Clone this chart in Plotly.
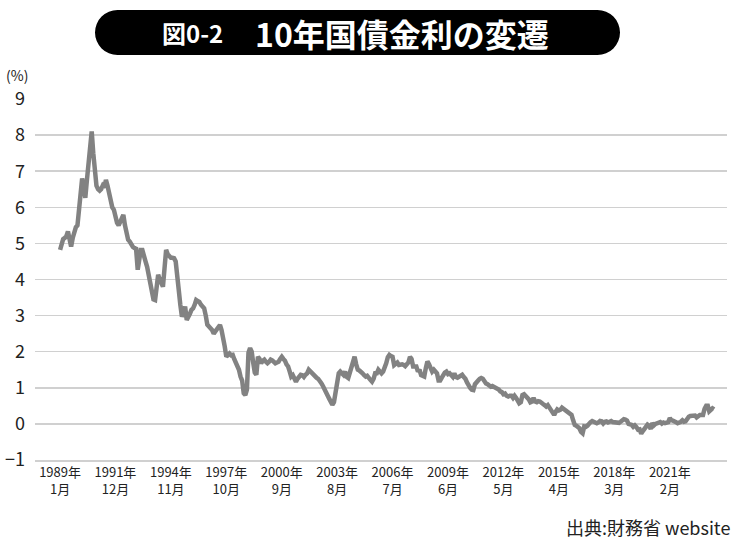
import pandas as pd
import plotly.graph_objects as go

# 10-year JGB yield (%), monthly, 1989-01 .. 2023-06
yield_pct = [
    # 1989
    4.82, 5.05, 5.12, 5.15, 5.20, 5.33, 5.10, 4.91, 5.15, 5.37, 5.45, 5.50,
    # 1990
    5.90, 6.40, 6.80, 6.55, 6.26, 6.76, 7.30, 7.80, 8.10, 7.50, 6.90, 6.60,
    # 1991
    6.50, 6.46, 6.50, 6.60, 6.55, 6.76, 6.60, 6.35, 6.12, 6.00, 5.93, 5.70,
    # 1992
    5.57, 5.50, 5.60, 5.74, 5.79, 5.50, 5.28, 5.10, 5.05, 4.96, 4.90, 4.87,
    # 1993
    4.85, 4.27, 4.60, 4.82, 4.82, 4.70, 4.50, 4.35, 4.15, 3.95, 3.70, 3.45,
    # 1994
    3.43, 3.90, 4.13, 4.00, 3.85, 3.80, 4.30, 4.82, 4.70, 4.63, 4.60, 4.60,
    # 1995
    4.59, 4.50, 4.20, 3.71, 3.30, 2.97, 3.10, 3.25, 2.88, 2.95, 3.05, 3.16,
    # 1996
    3.20, 3.30, 3.43, 3.40, 3.38, 3.30, 3.25, 3.20, 3.00, 2.75, 2.70, 2.65,
    # 1997
    2.60, 2.50, 2.55, 2.65, 2.70, 2.74, 2.60, 2.40, 2.14, 1.86, 1.90, 1.95,
    # 1998
    1.90, 1.91, 1.80, 1.70, 1.55, 1.50, 1.31, 1.20, 0.85, 0.80, 0.95, 1.97,
    # 1999
    2.10, 2.00, 1.70, 1.42, 1.36, 1.86, 1.80, 1.68, 1.75, 1.78, 1.72, 1.68,
    # 2000
    1.72, 1.78, 1.76, 1.70, 1.68, 1.70, 1.72, 1.80, 1.86, 1.80, 1.75, 1.65,
    # 2001
    1.59, 1.45, 1.31, 1.35, 1.25, 1.17, 1.25, 1.30, 1.36, 1.35, 1.30, 1.36,
    # 2002
    1.40, 1.50, 1.45, 1.40, 1.35, 1.31, 1.28, 1.25, 1.20, 1.13, 1.05, 0.94,
    # 2003
    0.85, 0.78, 0.70, 0.62, 0.53, 0.60, 0.85, 1.20, 1.40, 1.45, 1.38, 1.36,
    # 2004
    1.45, 1.30, 1.27, 1.45, 1.50, 1.75, 1.86, 1.65, 1.50, 1.48, 1.45, 1.40,
    # 2005
    1.35, 1.31, 1.33, 1.25, 1.22, 1.17, 1.25, 1.40, 1.40, 1.50, 1.45, 1.40,
    # 2006
    1.45, 1.55, 1.68, 1.85, 1.91, 1.88, 1.86, 1.63, 1.65, 1.70, 1.63, 1.65,
    # 2007
    1.65, 1.63, 1.60, 1.65, 1.70, 1.86, 1.80, 1.59, 1.60, 1.59, 1.45, 1.50,
    # 2008
    1.35, 1.31, 1.31, 1.55, 1.73, 1.65, 1.55, 1.45, 1.50, 1.45, 1.40, 1.20,
    # 2009
    1.20, 1.28, 1.36, 1.42, 1.45, 1.38, 1.40, 1.35, 1.30, 1.40, 1.30, 1.28,
    # 2010
    1.30, 1.32, 1.36, 1.30, 1.25, 1.15, 1.05, 1.00, 0.95, 0.94, 1.10, 1.17,
    # 2011
    1.20, 1.25, 1.27, 1.25, 1.15, 1.12, 1.10, 1.05, 1.03, 1.05, 1.03, 1.00,
    # 2012
    0.97, 0.95, 0.90, 0.88, 0.82, 0.84, 0.78, 0.76, 0.78, 0.78, 0.72, 0.78,
    # 2013
    0.72, 0.65, 0.57, 0.60, 0.80, 0.82, 0.78, 0.73, 0.68, 0.60, 0.62, 0.72,
    # 2014
    0.62, 0.60, 0.63, 0.62, 0.57, 0.55, 0.52, 0.48, 0.52, 0.45, 0.42, 0.34,
    # 2015
    0.25, 0.34, 0.40, 0.37, 0.39, 0.45, 0.42, 0.38, 0.35, 0.30, 0.30, 0.25,
    # 2016
    0.10, -0.03, -0.05, -0.10, -0.12, -0.22, -0.26, -0.07, -0.08, -0.05, 0.02, 0.05,
    # 2017
    0.08, 0.06, 0.07, 0.02, 0.04, 0.08, 0.07, 0.01, 0.06, 0.07, 0.04, 0.05,
    # 2018
    0.08, 0.05, 0.04, 0.05, 0.04, 0.03, 0.06, 0.11, 0.13, 0.12, 0.09, 0.00,
    # 2019
    0.00, -0.03, -0.08, -0.04, -0.09, -0.16, -0.15, -0.27, -0.20, -0.13, -0.08, -0.02,
    # 2020
    -0.05, -0.14, 0.02, -0.04, 0.00, 0.02, 0.01, 0.05, 0.01, 0.04, 0.02, 0.02,
    # 2021
    0.05, 0.16, 0.10, 0.09, 0.08, 0.05, 0.02, 0.03, 0.06, 0.10, 0.06, 0.07,
    # 2022
    0.17, 0.20, 0.22, 0.23, 0.24, 0.23, 0.18, 0.23, 0.25, 0.25, 0.25, 0.42,
    # 2023
    0.50, 0.50, 0.35, 0.39, 0.43, 0.40,
]
months = pd.date_range("1989-01-01", periods=len(yield_pct), freq="MS")

tick_dates = ["1989-01-01", "1991-12-01", "1994-11-01", "1997-10-01",
              "2000-09-01", "2003-08-01", "2006-07-01", "2009-06-01",
              "2012-05-01", "2015-04-01", "2018-03-01", "2021-02-01"]
tick_labels = ["1989年<br>1月", "1991年<br>12月", "1994年<br>11月", "1997年<br>10月",
               "2000年<br>9月", "2003年<br>8月", "2006年<br>7月", "2009年<br>6月",
               "2012年<br>5月", "2015年<br>4月", "2018年<br>3月", "2021年<br>2月"]
y_ticks = list(range(-1, 10))

title_prefix = "図0-2"
title_main = "10年国債金利の変遷"
unit_label = "(%)"
source_label = "出典:財務省 website"

FONT = "Noto Sans CJK JP"
W, H = 750, 546
# plot area in page pixels: x 35..727, y 99..460
L, T = 35, 99
R = W - 727
B = H - 460
PW, PH = W - L - R, H - T - B


def px(x):
    return (x - L) / PW


def py(y):
    return (H - B - y) / PH


fig = go.Figure()
fig.add_trace(go.Scatter(
    x=months, y=yield_pct, mode="lines",
    line=dict(color="#828282", width=4.5),
    hoverinfo="skip", showlegend=False,
))

# title pill
pill = dict(fillcolor="#000000", line=dict(width=0), xref="paper", yref="paper", layer="above")
shapes = [
    dict(type="rect", x0=px(117), x1=px(598), y0=py(55), y1=py(10), **pill),
    dict(type="circle", x0=px(95), x1=px(140), y0=py(55), y1=py(10), **pill),
    dict(type="circle", x0=px(575), x1=px(620), y0=py(55), y1=py(10), **pill),
]

annotations = [
    dict(text=f"<b>{title_prefix}</b>", x=px(192), y=py(33), xref="paper", yref="paper",
         xanchor="center", yanchor="middle", showarrow=False,
         font=dict(family=FONT, size=24, color="#ffffff")),
    dict(text=f"<b>{title_main}</b>", x=px(402), y=py(33), xref="paper", yref="paper",
         xanchor="center", yanchor="middle", showarrow=False,
         font=dict(family=FONT, size=32, color="#ffffff")),
    dict(text=unit_label, x=px(17), y=py(75), xref="paper", yref="paper",
         xanchor="center", yanchor="middle", showarrow=False,
         font=dict(family=FONT, size=14, color="#222222")),
    dict(text=source_label, x=px(732), y=py(527), xref="paper", yref="paper",
         xanchor="right", yanchor="middle", showarrow=False,
         font=dict(family=FONT, size=18, color="#222222")),
]

fig.update_layout(
    width=W, height=H,
    margin=dict(l=L, r=R, t=T, b=B, pad=0, autoexpand=False),
    paper_bgcolor="#ffffff", plot_bgcolor="#ffffff",
    font=dict(family=FONT, color="#222222"),
    shapes=shapes, annotations=annotations,
    xaxis=dict(
        type="date", range=["1987-09-07", "2024-02-05"],
        tickvals=tick_dates, ticktext=tick_labels,
        tickfont=dict(family=FONT, size=13, color="#222222"),
        showgrid=False, zeroline=False,
        showline=True, linecolor="#d0d0d0", linewidth=1.5,
        ticks="", fixedrange=True,
    ),
    yaxis=dict(
        range=[-1, 9], tickvals=y_ticks,
        tickfont=dict(family=FONT, size=18, color="#222222"),
        showgrid=True, gridcolor="#d0d0d0", gridwidth=1.5,
        zeroline=False, showline=False, ticks="",
        ticklabelstandoff=9, fixedrange=True,
    ),
)

fig.write_html(
    "out.html",
    config={"displayModeBar": False, "staticPlot": True},
    post_script="document.body.style.margin='0';document.body.style.overflow='hidden';",
)
